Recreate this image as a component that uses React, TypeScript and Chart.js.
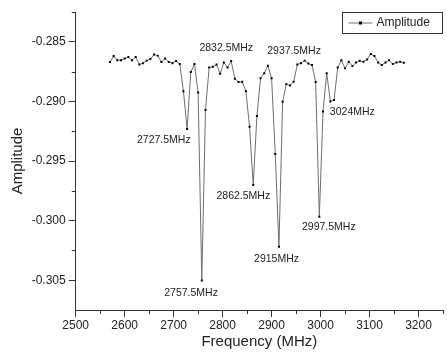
import React, { useEffect, useRef } from "react";
import { Chart, registerables } from "chart.js";

Chart.register(...registerables);

// ---- Data ----
const frequencies = [
  2570, 2577.5, 2585, 2592.5, 2600, 2607.5, 2615, 2622.5, 2630, 2637.5,
  2645, 2652.5, 2660, 2667.5, 2675, 2682.5, 2690, 2697.5, 2705, 2712.5,
  2720, 2727.5, 2735, 2742.5, 2750, 2757.5, 2765, 2772.5, 2780, 2787.5,
  2795, 2802.5, 2810, 2817.5, 2825, 2832.5, 2840, 2847.5, 2855, 2862.5,
  2870, 2877.5, 2885, 2892.5, 2900, 2907.5, 2915, 2922.5, 2930, 2937.5,
  2945, 2952.5, 2960, 2967.5, 2975, 2982.5, 2990, 2997.5, 3005, 3012.5,
  3020, 3027.5, 3035, 3042.5, 3050, 3057.5, 3065, 3072.5, 3080, 3087.5,
  3095, 3102.5, 3110, 3117.5, 3125, 3132.5, 3140, 3147.5, 3155, 3162.5,
  3170,
];

const amplitudes = [
  -0.2867, -0.28620, -0.28654, -0.28654, -0.28641, -0.28628, -0.28654, -0.28628, -0.28691, -0.28679,
  -0.28658, -0.28645, -0.28607, -0.28616, -0.28670, -0.28641, -0.28670, -0.28679, -0.28662, -0.28687,
  -0.28914, -0.29232, -0.28754, -0.28687, -0.28926, -0.30503, -0.29073, -0.28716, -0.28710, -0.28691,
  -0.28768, -0.28673, -0.28716, -0.28662, -0.28810, -0.28838, -0.28836, -0.28914, -0.29213, -0.29702,
  -0.29123, -0.28805, -0.28763, -0.28701, -0.28805, -0.29442, -0.30220, -0.29003, -0.28855, -0.28867,
  -0.28836, -0.28691, -0.28679, -0.28658, -0.28683, -0.28695, -0.28838, -0.29968, -0.29084, -0.28763,
  -0.29000, -0.28989, -0.28716, -0.28654, -0.28723, -0.28668, -0.28704, -0.28673, -0.28659, -0.28668,
  -0.28648, -0.28603, -0.28620, -0.28673, -0.28695, -0.28673, -0.28654, -0.28687, -0.28673, -0.28668,
  -0.28676,
];

const seriesName = "Amplitude";
const xTitle = "Frequency (MHz)";
const yTitle = "Amplitude";

const xMajorTicks = [2500, 2600, 2700, 2800, 2900, 3000, 3100, 3200];
const xMinorTicks = [2550, 2650, 2750, 2850, 2950, 3050, 3150, 3250];
const yMajorTicks = [-0.285, -0.29, -0.295, -0.3, -0.305];
const yMinorTicks = [-0.2825, -0.2875, -0.2925, -0.2975, -0.3025];

const annotationFreqs = [2727.5, 2757.5, 2832.5, 2862.5, 2915, 2937.5, 2997.5, 3024];
const annotationTexts = [
  "2727.5MHz", "2757.5MHz", "2832.5MHz", "2862.5MHz",
  "2915MHz", "2937.5MHz", "2997.5MHz", "3024MHz",
];

// ---- Layout / style (kept apart from data) ----
const annotationOffsets: [number, number][] = [
  [-23.3, 11], [-10.7, 12.2], [-12.3, -33.7], [-9.9, 10.7],
  [-2.4, 12], [4.1, -34.5], [9.5, 10], [18.3, 11.7],
];
const FONT = "'Liberation Sans', Arial, sans-serif";
const AXIS_COLOR = "#333333";
const TEXT_COLOR = "#222222";
const LINE_COLOR = "#6e6e6e";
const POINT_COLOR = "#000000";

const extrasPlugin = {
  id: "extras",
  afterDraw(chart: any) {
    const { ctx, chartArea } = chart;
    const xs = chart.scales.x;
    const ys = chart.scales.y;
    ctx.save();
    // minor ticks
    ctx.strokeStyle = AXIS_COLOR;
    ctx.lineWidth = 1;
    ctx.beginPath();
    for (const v of xMinorTicks) {
      const px = Math.round(xs.getPixelForValue(v)) + 0.5;
      ctx.moveTo(px, chartArea.bottom);
      ctx.lineTo(px, chartArea.bottom + 4);
    }
    for (const v of yMinorTicks) {
      const py = Math.round(ys.getPixelForValue(v)) + 0.5;
      ctx.moveTo(chartArea.left, py);
      ctx.lineTo(chartArea.left - 4, py);
    }
    ctx.stroke();

    // annotations
    ctx.fillStyle = TEXT_COLOR;
    ctx.font = `10.5px ${FONT}`;
    ctx.textAlign = "center";
    ctx.textBaseline = "middle";
    annotationFreqs.forEach((f, k) => {
      let best = 0;
      frequencies.forEach((fr, i) => {
        if (Math.abs(fr - f) < Math.abs(frequencies[best] - f)) best = i;
      });
      const px = xs.getPixelForValue(frequencies[best]);
      const py = ys.getPixelForValue(amplitudes[best]);
      const [dx, dy] = annotationOffsets[k];
      ctx.fillText(annotationTexts[k], px + dx, py + dy);
    });

    // legend
    const bw = 100;
    const bh = 21;
    const bx = Math.round(chartArea.right - bw - 1) + 0.5;
    const by = Math.round(chartArea.top) + 0.5;
    ctx.strokeStyle = AXIS_COLOR;
    ctx.lineWidth = 1;
    ctx.strokeRect(bx, by, bw, bh);
    const ly = by + bh / 2;
    ctx.strokeStyle = LINE_COLOR;
    ctx.beginPath();
    ctx.moveTo(bx + 6, ly);
    ctx.lineTo(bx + 30, ly);
    ctx.stroke();
    ctx.fillStyle = POINT_COLOR;
    ctx.fillRect(bx + 18 - 1.5, ly - 1.5, 3, 3);
    ctx.fillStyle = TEXT_COLOR;
    ctx.font = `12px ${FONT}`;
    ctx.textAlign = "left";
    ctx.fillText(seriesName, bx + 34, ly);
    ctx.restore();
  },
};

export default function App() {
  const canvasRef = useRef<HTMLCanvasElement | null>(null);

  useEffect(() => {
    if (!canvasRef.current) return;
    const chart = new Chart(canvasRef.current, {
      type: "line",
      data: {
        datasets: [
          {
            label: seriesName,
            data: frequencies.map((f, i) => ({ x: f, y: amplitudes[i] })),
            borderColor: LINE_COLOR,
            borderWidth: 1,
            pointStyle: "rect",
            pointRadius: 1.4,
            pointBackgroundColor: POINT_COLOR,
            pointBorderColor: POINT_COLOR,
            pointBorderWidth: 0,
            tension: 0,
            fill: false,
          },
        ],
      },
      options: {
        animation: false,
        responsive: false,
        devicePixelRatio: 1,
        layout: { padding: { top: 12, right: 2.5, left: 0, bottom: 0 } },
        plugins: {
          legend: { display: false },
          tooltip: { enabled: false },
        },
        scales: {
          x: {
            type: "linear",
            min: 2500,
            max: 3250,
            afterFit: (s: any) => { s.height = 48; },
            afterBuildTicks: (s: any) => { s.ticks = xMajorTicks.map((v) => ({ value: v })); },
            ticks: {
              includeBounds: false,
              padding: 1.5,
              color: TEXT_COLOR,
              font: { size: 12, family: FONT },
              callback: (v: any) => String(v),
              maxRotation: 0,
            },
            grid: {
              display: true,
              drawOnChartArea: false,
              drawTicks: true,
              tickLength: 7,
              color: AXIS_COLOR,
            },
            border: { display: true, color: AXIS_COLOR, width: 1 },
            title: {
              display: true,
              text: xTitle,
              color: TEXT_COLOR,
              font: { size: 15, family: FONT },
              padding: { top: 0, bottom: 7.3 },
            },
          },
          y: {
            type: "linear",
            min: -0.3075,
            max: -0.2825,
            afterFit: (s: any) => { s.width = 75.7; },
            afterBuildTicks: (s: any) => { s.ticks = yMajorTicks.map((v) => ({ value: v })); },
            ticks: {
              includeBounds: false,
              padding: 3,
              color: TEXT_COLOR,
              font: { size: 12, family: FONT },
              callback: (v: any) => Number(v).toFixed(3),
            },
            grid: {
              display: true,
              drawOnChartArea: false,
              drawTicks: true,
              tickLength: 7,
              color: AXIS_COLOR,
            },
            border: { display: true, color: AXIS_COLOR, width: 1 },
            title: {
              display: true,
              text: yTitle,
              color: TEXT_COLOR,
              font: { size: 15, family: FONT },
              padding: { top: 9, bottom: 0 },
            },
          },
        },
      },
      plugins: [extrasPlugin],
    });
    return () => chart.destroy();
  }, []);

  return (
    <div style={{ position: "fixed", left: 0, top: 0, width: 447, height: 358, background: "#fff" }}>
      <canvas ref={canvasRef} width={447} height={358} style={{ display: "block" }} />
    </div>
  );
}
